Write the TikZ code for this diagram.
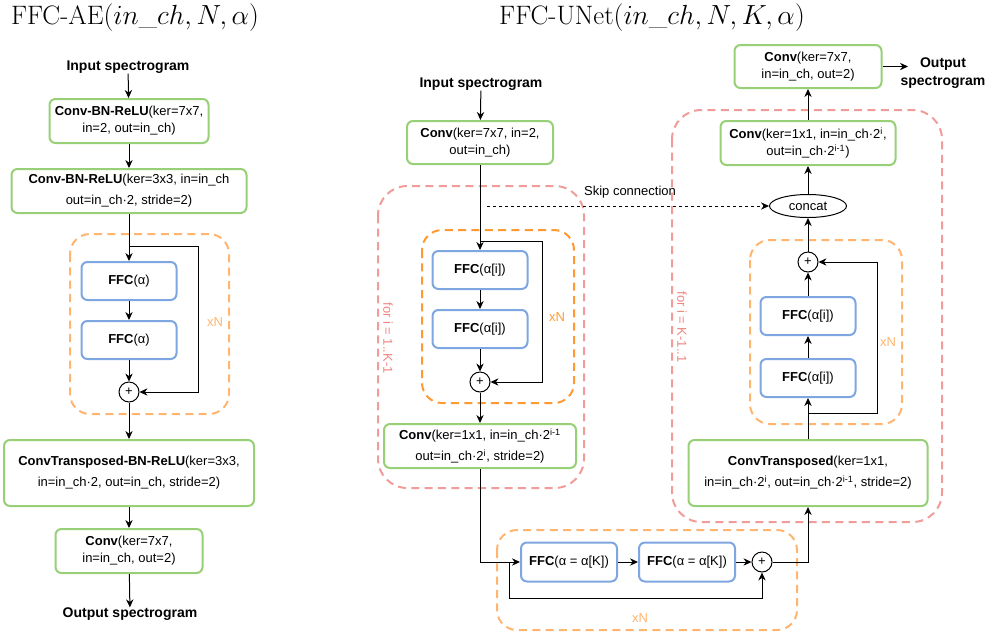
\documentclass[tikz,border=0pt]{standalone}
\usepackage{fontspec}
\setsansfont{Liberation Sans}
\usetikzlibrary{arrows.meta,shapes.geometric}
\definecolor{cgreen}{HTML}{97D077}
\definecolor{cblue}{HTML}{7EA6E0}
\definecolor{corange}{HTML}{FFB570}
\definecolor{cdorange}{HTML}{FF9A33}
\definecolor{cpink}{HTML}{F19C99}
\definecolor{cpinkt}{HTML}{EE8683}
\begin{document}
\begin{tikzpicture}[>={Stealth[length=6pt,width=5.5pt]},x=0.75pt,y=-0.75pt,
    every node/.style={font=\sffamily\fontsize{9.75}{12.75}\selectfont,align=center,inner sep=0pt},
    conn/.style={->,line width=0.75pt},
    gbox/.style={draw=cgreen,line width=1.5pt,rounded corners=4.5pt,fill=white},
    bbox/.style={draw=cblue,line width=1.5pt,rounded corners=4.5pt,fill=white,
        minimum width=71.25pt,minimum height=28.5pt},
    sumnode/.style={draw,circle,fill=white,minimum size=15pt,line width=0.75pt},
    lbl/.style={font=\sffamily\bfseries\fontsize{10.5}{13.5}\selectfont},
    loopbox/.style={dash pattern=on 6pt off 4pt,line width=1.5pt,rounded corners=15pt},
    ttl/.style={font=\rmfamily\fontsize{20}{24}\selectfont}]
    \useasboundingbox (0,0) rectangle (986,637);
    % dashed loop frames
    \draw[loopbox,draw=corange] (70,234) rectangle (229,414);
    \draw[loopbox,draw=cpink,rounded corners=22pt] (378,186) rectangle (584,488);
    \draw[loopbox,draw=cdorange] (422,230) rectangle (574,403);
    \draw[loopbox,draw=corange] (497,530) rectangle (797,630);
    \draw[loopbox,draw=cpink,rounded corners=22pt] (672,110) rectangle (942,522);
    \draw[loopbox,draw=corange] (750,240) rectangle (902,424);
    % FFC-AE
    \node[ttl] (t1) at (135,18) {FFC-AE$(in\_ch, N, \alpha)$};
    \node[lbl] (in1) at (128,67) {Input spectrogram};
    \node[gbox,minimum width=119.25pt,minimum height=33pt] (a1) at (129,121)
        {\textbf{Conv-BN-ReLU}(ker=7x7,\\in=2, out=in\_ch)};
    \node[gbox,minimum width=176.25pt,minimum height=33pt] (a2) at (129,191)
        {\textbf{Conv-BN-ReLU}(ker=3x3, in=in\_ch\\[3pt]out=in\_ch·2, stride=2)};
    \node[bbox] (f1) at (129,281) {\textbf{FFC}(α)};
    \node[bbox] (f2) at (129,340) {\textbf{FFC}(α)};
    \node[sumnode] (s1) at (129,392) {+};
    \node[text=corange] (x1) at (215,322) {xN};
    \node[gbox,minimum width=187.5pt,minimum height=49.5pt] (a3) at (129,473)
        {\textbf{ConvTransposed-BN-ReLU}(ker=3x3,\\[3pt]in=in\_ch·2, out=in\_ch, stride=2)};
    \node[gbox,minimum width=110.25pt,minimum height=33pt] (a4) at (129,551)
        {\textbf{Conv}(ker=7x7,\\in=in\_ch, out=2)};
    \node[lbl] (out1) at (130,614) {Output spectrogram};
    \coordinate (k1) at (129,246);
    \draw[conn] (in1) -- (a1);
    \draw[conn] (a1) -- (a2);
    \draw[conn] (a2) -- (f1);
    \draw[conn] (f1) -- (f2);
    \draw[conn] (f2) -- (s1);
    \draw[conn] (k1) -- ++(69,0) |- (s1);
    \draw[conn] (s1) -- (a3);
    \draw[conn] (a3) -- (a4);
    \draw[conn] (a4) -- (out1);
    % FFC-UNet
    \node[ttl] (t2) at (652,18) {FFC-UNet$(in\_ch, N, K, \alpha)$};
    \node[lbl] (in2) at (481,84) {Input spectrogram};
    \node[gbox,minimum width=109.5pt,minimum height=32.25pt] (b1) at (480,142.5)
        {\textbf{Conv}(ker=7x7, in=2,\\out=in\_ch)};
    \node[bbox] (g1) at (480,270) {\textbf{FFC}(α[i])};
    \node[bbox] (g2) at (480,329) {\textbf{FFC}(α[i])};
    \node[sumnode] (s2) at (480,382) {+};
    \node[text=cdorange] (x2) at (557,317) {xN};
    \node[text=cpinkt,rotate=-90] (r1) at (388,338) {for i = 1..K-1};
    \node[gbox,minimum width=144pt,minimum height=33pt] (b2) at (480,446)
        {\textbf{Conv}(ker=1x1, in=in\_ch·2\textsuperscript{i-1}\\[3pt]out=in\_ch·2\textsuperscript{i}, stride=2)};
    \coordinate (k2) at (480,241);
    \draw[conn] (in2) -- (b1);
    \draw[conn] (b1) -- (g1);
    \draw[conn] (g1) -- (g2);
    \draw[conn] (g2) -- (s2);
    \draw[conn] (k2) -- ++(62,0) |- (s2);
    \draw[conn] (s2) -- (b2);
    % bottleneck
    \node[bbox,minimum width=72pt,minimum height=29.25pt] (h1) at (569,562) {\textbf{FFC}(α = α[K])};
    \node[bbox,minimum width=72pt,minimum height=29.25pt] (h2) at (687,562) {\textbf{FFC}(α = α[K])};
    \node[sumnode] (s3) at (762,562) {+};
    \node[text=corange] (x3) at (640,618) {xN};
    \coordinate (k4) at (509,562);
    \draw[conn] (b2) |- (h1);
    \draw[conn] (h1) -- (h2);
    \draw[conn] (h2) -- (s3);
    \draw[conn] (k4) -- ++(0,36) -| (s3);
    % decoder
    \node[gbox,minimum width=179.25pt,minimum height=49.5pt] (c1) at (808,473)
        {\textbf{ConvTransposed}(ker=1x1,\\[3pt]in=in\_ch·2\textsuperscript{i}, out=in\_ch·2\textsuperscript{i-1}, stride=2)};
    \node[bbox] (e1) at (808,378) {\textbf{FFC}(α[i])};
    \node[bbox] (e2) at (808,316) {\textbf{FFC}(α[i])};
    \node[sumnode] (s4) at (808,262) {+};
    \node[text=corange] (x4) at (888,342) {xN};
    \node[text=cpinkt,rotate=-90] (r2) at (682,327) {for i = K-1..1};
    \node[draw,ellipse,line width=0.75pt,fill=white,minimum width=57.75pt,minimum height=17.25pt] (cc) at (808,206) {concat};
    \node[gbox,minimum width=131.25pt,minimum height=33pt] (c2) at (808,143)
        {\textbf{Conv}(ker=1x1, in=in\_ch·2\textsuperscript{i},\\out=in\_ch·2\textsuperscript{i-1})};
    \node[gbox,minimum width=110.25pt,minimum height=32.25pt] (c3) at (808,66.5)
        {\textbf{Conv}(ker=7x7,\\in=in\_ch, out=2)};
    \node[lbl] (out2) at (943,73) {Output\\spectrogram};
    \coordinate (k5) at (808,413);
    \coordinate (o3) at (908,66.5);
    \draw[conn] (s3) -| (c1);
    \draw[conn] (c1) -- (e1);
    \draw[conn] (e1) -- (e2);
    \draw[conn] (e2) -- (s4);
    \draw[conn] (k5) -- ++(69,0) |- (s4);
    \draw[conn] (s4) -- (cc);
    \draw[conn] (cc) -- (c2);
    \draw[conn] (c2) -- (c3);
    \draw[conn] (c3) -- (o3);
    % skip connection
    \coordinate (k3) at (487,206);
    \draw[conn,dash pattern=on 2.25pt off 2.25pt] (k3) -- (cc);
    \node (sk) at (630,192) {Skip connection};
\end{tikzpicture}
\end{document}
